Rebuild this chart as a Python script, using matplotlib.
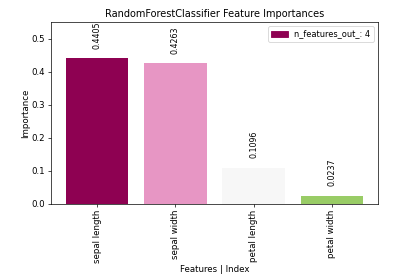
import matplotlib
matplotlib.use("Agg")
import matplotlib.pyplot as plt
from matplotlib.patches import Patch

features = ["sepal length", "sepal width", "petal length", "petal width"]
importances = [0.4405, 0.4263, 0.1096, 0.0237]
n_features_out = 4

# цвета столбцов (PiYG)
colors = ["#8e0152", "#e796c4", "#f7f7f7", "#99cc66"]

# 6.4x4.48 дюйма при 62.5 dpi -> 400x280 пикселей
fig, ax = plt.subplots(figsize=(6.4, 4.48), dpi=62.5)
x = range(len(features))
ax.bar(x, importances, color=colors, width=0.8)

# подписи значений над столбцами
for xi, val in zip(x, importances):
    ax.annotate(f"{val:.4f}", (xi, val), xytext=(0, 11), textcoords="offset points",
                rotation=90, ha="center", va="bottom", fontsize=9)

ax.set_xticks(list(x))
ax.set_xticklabels(features, rotation=90)
ax.set_ylim(0, max(importances) * 1.25)
ax.set_title("RandomForestClassifier Feature Importances", fontsize=11.2)
ax.set_xlabel("Features | Index", labelpad=2)
ax.set_ylabel("Importance", labelpad=1.5)
ax.legend(handles=[Patch(color=colors[0], label=f"n_features_out_: {n_features_out}")],
          loc="upper right", fontsize=9.5)

fig.subplots_adjust(left=0.1275, right=0.945, top=0.921, bottom=0.272)
fig.savefig("out.png", dpi=62.5)
